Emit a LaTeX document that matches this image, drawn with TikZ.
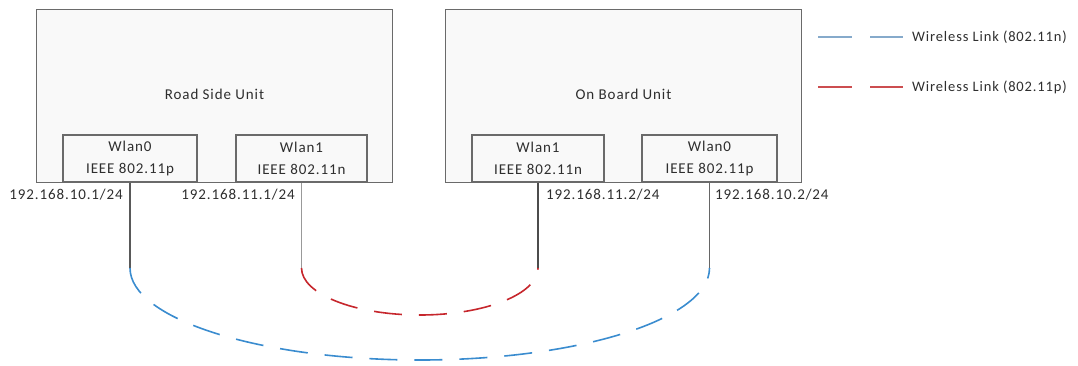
\documentclass[tikz,border=0pt]{standalone}
\usepackage{fontspec}
\setmainfont{Carlito}[LetterSpace=6]
\usetikzlibrary{shadows}
\definecolor{boxline}{HTML}{6A6A6A}
\definecolor{boxfill}{HTML}{F9F9F9}
\definecolor{txt}{HTML}{2E2E2E}
\definecolor{linkn}{HTML}{3A8CCF}
\definecolor{linkp}{HTML}{C6262C}
\definecolor{legn}{HTML}{86AACB}
\definecolor{legp}{HTML}{CC4E50}
\tikzset{
  unitbox/.style={draw=boxline, line width=1.8pt, fill=boxfill, inner sep=0pt,
    drop shadow={shadow xshift=0.8pt, shadow yshift=-0.8pt, opacity=0.25}},
  ifbox/.style={draw=boxline, line width=1.8pt, fill=boxfill, inner sep=0pt,
    align=center, text=txt, font=\fontsize{15}{22}\selectfont},
  lbl/.style={text=txt, font=\fontsize{15}{18}\selectfont, inner sep=0pt},
  legtxt/.style={text=txt, font=\fontsize{14.5}{18}\selectfont, inner sep=0pt, anchor=west},
  wirel/.style={line width=1.1pt},
  linkdash/.style={line width=1.6pt, dash pattern=on 28pt off 17pt},
}
\begin{document}
\begin{tikzpicture}[x=1pt,y=-1pt]
\useasboundingbox (0,0) rectangle (1078,365);

% units
\node[unitbox, minimum width=356pt, minimum height=173pt] (rsu) at (214.5,96) {};
\node[unitbox, minimum width=356pt, minimum height=173pt] (obu) at (623.5,96) {};
\node[lbl] (rsut) at (214.5,94) {Road Side Unit};
\node[lbl] (obut) at (623.5,94) {On Board Unit};

% interfaces
\node[ifbox, minimum width=134pt, minimum height=47pt] (r0) at (130,158.5) {Wlan0\\IEEE 802.11p};
\node[ifbox, minimum width=131pt, minimum height=47pt] (r1) at (301.5,158.5) {Wlan1\\IEEE 802.11n};
\node[ifbox, minimum width=132pt, minimum height=47pt] (o1) at (538,158.5) {Wlan1\\IEEE 802.11n};
\node[ifbox, minimum width=135pt, minimum height=47pt] (o0) at (709.5,158.5) {Wlan0\\IEEE 802.11p};

% addresses
\node[lbl, anchor=east] (ip1) at (123,195) {192.168.10.1/24};
\node[lbl, anchor=east] (ip2) at (295,195) {192.168.11.1/24};
\node[lbl, anchor=west] (ip3) at (546,195) {192.168.11.2/24};
\node[lbl, anchor=west] (ip4) at (715,195) {192.168.10.2/24};

% wire drops
\coordinate (ar0) at (130,268);
\coordinate (ar1) at (301.5,268);
\coordinate (ao1) at (538,268);
\coordinate (ao0) at (709.5,268);
\draw[wirel, draw=black!65] (r0.south) -- (ar0);
\draw[wirel, draw=black!40] (r1.south) -- (ar1);
\draw[wirel, draw=black!70] (o1.south) -- (ao1);
\draw[wirel, draw=black!60] (o0.south) -- (ao0);

% wireless links
\draw[linkdash, draw=linkn] (ar0) arc[start angle=180, end angle=360, x radius=289.75pt, y radius=92pt];
\draw[linkdash, draw=linkp] (ar1) arc[start angle=180, end angle=360, x radius=118.25pt, y radius=47pt];

% legend
\coordinate (ln1) at (818,37);
\coordinate (ln2) at (903,37);
\coordinate (lp1) at (818,87);
\coordinate (lp2) at (903,87);
\draw[draw=legn, line width=1.6pt, dash pattern=on 34pt off 18pt] (ln1) -- (ln2);
\draw[draw=legp, line width=1.6pt, dash pattern=on 34pt off 18pt] (lp1) -- (lp2);
\node[legtxt] (legn) at (912,37) {Wireless Link (802.11n)};
\node[legtxt] (legp) at (912,87) {Wireless Link (802.11p)};
\end{tikzpicture}
\end{document}
